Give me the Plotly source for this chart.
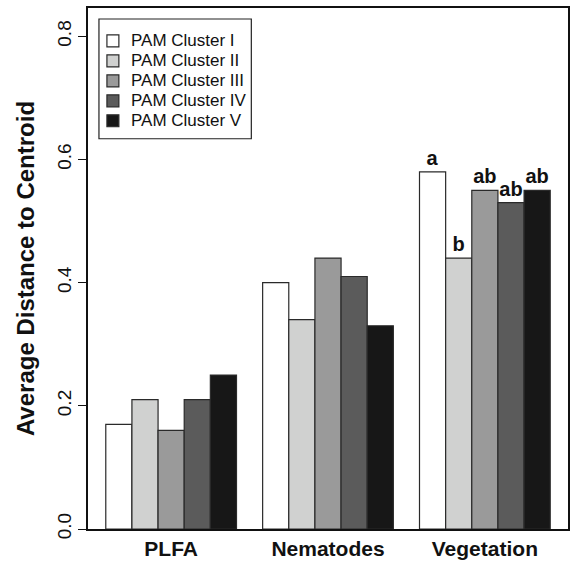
import plotly.graph_objects as go

categories = ["PLFA", "Nematodes", "Vegetation"]
series_names = ["PAM Cluster I", "PAM Cluster II", "PAM Cluster III", "PAM Cluster IV", "PAM Cluster V"]
cluster_I = [0.17, 0.40, 0.58]
cluster_II = [0.21, 0.34, 0.44]
cluster_III = [0.16, 0.44, 0.55]
cluster_IV = [0.21, 0.41, 0.53]
cluster_V = [0.25, 0.33, 0.55]
letters_I = ["", "", "a"]
letters_II = ["", "", "b"]
letters_III = ["", "", "ab"]
letters_IV = ["", "", "ab"]
letters_V = ["", "", "ab"]
y_tick_vals = [0.0, 0.2, 0.4, 0.6, 0.8]
y_tick_text = ["0.0", "0.2", "0.4", "0.6", "0.8"]

colors = ["#ffffff", "#d0d1d0", "#9a9a9a", "#5b5b5b", "#171717"]
values = [cluster_I, cluster_II, cluster_III, cluster_IV, cluster_V]
letters = [letters_I, letters_II, letters_III, letters_IV, letters_V]

FONT = "Liberation Sans, Arial, Helvetica, sans-serif"
W, H = 574, 564
ML, MR, MT, MB = 88, 4, 8, 34
PW, PH = W - ML - MR, H - MT - MB

def px_x(px):
    return (px - ML) / PW

def px_y(py):
    return (H - MB - py) / PH

fig = go.Figure()
for name, vals, col, lab in zip(series_names, values, colors, letters):
    fig.add_trace(go.Bar(
        x=categories, y=vals, name=name,
        marker=dict(color=col, line=dict(color="#2a2a2a", width=1.2)),
        text=lab, textposition="outside", cliponaxis=False,
        constraintext="none",
        textfont=dict(family=FONT, size=20, color="#111111", weight="bold"),
        showlegend=False,
    ))

# legend drawn as a box with swatches and labels (R-style compact legend)
shapes = [dict(type="rect", xref="paper", yref="paper",
               x0=px_x(99), x1=px_x(252), y0=px_y(139), y1=px_y(19),
               line=dict(color="#222222", width=1.2), fillcolor="white", layer="above")]
annotations = []
for i, (name, col) in enumerate(zip(series_names, colors)):
    cy = 41 + i * 20
    shapes.append(dict(type="rect", xref="paper", yref="paper",
                       x0=px_x(107), x1=px_x(119), y0=px_y(cy + 6), y1=px_y(cy - 6),
                       line=dict(color="#2a2a2a", width=1.2), fillcolor=col, layer="above"))
    annotations.append(dict(xref="paper", yref="paper", x=px_x(129), y=px_y(cy),
                            xanchor="left", yanchor="middle", text=name, showarrow=False,
                            font=dict(family=FONT, size=17, color="#111111")))

fig.update_layout(
    width=W, height=H,
    margin=dict(l=ML, r=MR, t=MT, b=MB),
    paper_bgcolor="white", plot_bgcolor="white",
    barmode="group", bargap=1/6, bargroupgap=0,
    font=dict(family=FONT, color="#111111"),
    showlegend=False,
    shapes=shapes, annotations=annotations,
)
fig.update_xaxes(
    type="category", range=[-0.53, 2.53],
    showline=True, mirror=True, linecolor="#111111", linewidth=1.5,
    ticks="", showgrid=False, zeroline=False,
    tickfont=dict(family=FONT, size=21, color="#111111", weight="bold"),
)
fig.update_yaxes(
    range=[0, 0.846], tickvals=y_tick_vals, ticktext=y_tick_text,
    tickangle=-90, ticks="outside", ticklen=8, tickwidth=1.2, tickcolor="#111111",
    showline=True, mirror=True, linecolor="#111111", linewidth=1.5,
    showgrid=False, zeroline=False,
    tickfont=dict(family=FONT, size=19, color="#111111"),
    title=dict(text="Average Distance to Centroid", standoff=12,
               font=dict(family=FONT, size=24, color="#111111", weight="bold")),
)

fig.write_html("out.html")
